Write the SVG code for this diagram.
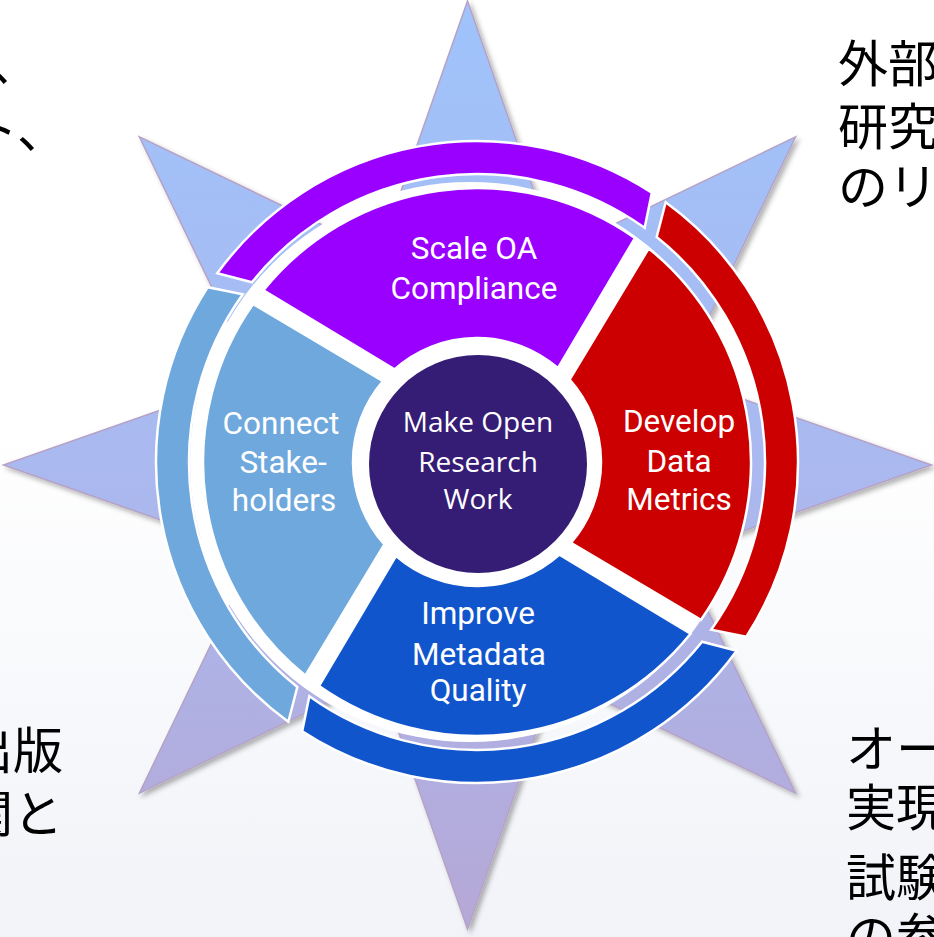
<svg xmlns="http://www.w3.org/2000/svg" width="934" height="937" viewBox="0 0 934 937">
<defs>
<linearGradient id="bg" x1="0" y1="0" x2="0" y2="937" gradientUnits="userSpaceOnUse">
<stop offset="0" stop-color="#ffffff"/><stop offset="0.45" stop-color="#ffffff"/><stop offset="1" stop-color="#f1f3f8"/>
</linearGradient>
<linearGradient id="starg" x1="0" y1="0" x2="0" y2="930" gradientUnits="userSpaceOnUse">
<stop offset="0" stop-color="#9fc3fb"/><stop offset="0.5" stop-color="#aab9f0"/><stop offset="1" stop-color="#b5a8d6"/>
</linearGradient>
<filter id="sh" x="-10%" y="-10%" width="120%" height="120%">
<feDropShadow dx="3" dy="3" stdDeviation="2.5" flood-color="#000" flood-opacity="0.3"/>
</filter>
<style>
.seg{stroke:#fff;stroke-width:2.5}
.lbl{font-family:Roboto,"Liberation Sans",sans-serif;font-size:31.5px;fill:#fff;text-anchor:middle}
.ctr{font-family:"Open Sans","Liberation Sans",sans-serif;font-size:28px;fill:#fff;text-anchor:middle}
.jp{font-family:"Noto Sans CJK JP","Noto Sans CJK SC",sans-serif;font-size:50px;fill:#000}
</style>
</defs>
<rect x="0" y="0" width="934" height="937" fill="url(#bg)"/>
<g id="star">
<polygon points="467.5,1 555.52,252.51 795.6,136.9 679.99,376.98 931.5,465 679.99,553.02 795.6,793.1 555.52,677.49 467.5,929 379.48,677.49 139.4,793.1 255.01,553.02 3.5,465 255.01,376.98 139.4,136.9 379.48,252.51" fill="url(#starg)" stroke="#b6a2c6" stroke-width="1.5" filter="url(#sh)"/>
</g>
<circle cx="470" cy="462" r="280" fill="#fff"/>
<g id="band-purple"><path class="seg" fill="#9900ff" d="M217.30,273.32 A321,321 0 0 1 651.83,192.79 L644.65,227.83 A288,288 0 0 0 251.92,282.32 Z"/></g>
<g id="band-red"><path class="seg" fill="#cc0000" d="M665.68,202.30 A321,321 0 0 1 746.21,636.83 L711.17,629.65 A288,288 0 0 0 656.68,236.92 Z"/></g>
<g id="band-blue"><path class="seg" fill="#1155cc" d="M736.70,650.68 A321,321 0 0 1 302.17,731.21 L309.35,696.17 A288,288 0 0 0 702.08,641.68 Z"/></g>
<g id="band-lightblue"><path class="seg" fill="#6fa8dc" d="M288.32,721.70 A321,321 0 0 1 207.79,287.17 L242.83,294.35 A288,288 0 0 0 297.32,687.08 Z"/></g>
<g id="connectors"></g>
<g id="scale-oa">
<path class="seg" fill="#9900ff" d="M263.46,290.31 A274,274 0 0 1 634.94,238.10 L557.94,368.06 A124,124 0 0 0 394.51,369.42 Z"/>
<text class="lbl" x="474" y="259">Scale OA</text>
<text class="lbl" x="474" y="299">Compliance</text>
</g>
<g id="develop">
<path class="seg" fill="#cc0000" d="M648.69,248.46 A274,274 0 0 1 700.90,619.94 L570.94,542.94 A124,124 0 0 0 569.58,379.51 Z"/>
<text class="lbl" x="679" y="432">Develop</text>
<text class="lbl" x="679" y="472">Data</text>
<text class="lbl" x="679" y="510">Metrics</text>
</g>
<g id="improve">
<path class="seg" fill="#1155cc" d="M690.54,633.69 A274,274 0 0 1 319.06,685.90 L396.06,555.94 A124,124 0 0 0 559.49,554.58 Z"/>
<rect x="350" y="605" width="4" height="10" fill="#fff"/>
<text class="lbl" x="478" y="624">Improve</text>
<text class="lbl" x="479" y="665">Metadata</text>
<text class="lbl" x="478" y="701">Quality</text>
</g>
<g id="connect">
<path class="seg" fill="#6fa8dc" d="M305.31,675.54 A274,274 0 0 1 253.10,304.06 L383.06,381.06 A124,124 0 0 0 384.42,544.49 Z"/>
<text class="lbl" x="281" y="434">Connect</text>
<text class="lbl" x="283" y="473">Stake-</text>
<text class="lbl" x="284" y="511">holders</text>
</g>
<g id="center">
<circle cx="478" cy="464" r="109" fill="#351c75"/>
<text class="ctr" x="478" y="432">Make Open</text>
<text class="ctr" x="478" y="472">Research</text>
<text class="ctr" x="478" y="509">Work</text>
</g>
<g id="jp-text">
<text class="jp" x="-10" y="81">、</text>
<text class="jp" x="-32" y="148">ト、</text>
<text class="jp" x="838" y="82">外部</text>
<text class="jp" x="838" y="145">研究</text>
<text class="jp" x="838" y="205">のリ</text>
<text class="jp" x="-37" y="769">出版</text>
<text class="jp" x="-37" y="832">関と</text>
<text class="jp" x="846" y="767">オー</text>
<text class="jp" x="846" y="826">実現</text>
<text class="jp" x="846" y="896">試験</text>
<text class="jp" x="846" y="955">の参</text>
</g>
</svg>
